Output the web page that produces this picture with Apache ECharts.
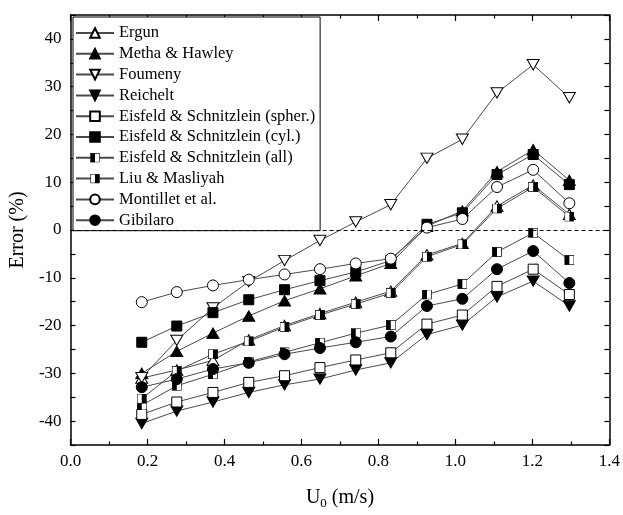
<!DOCTYPE html>
<html>
<head>
<meta charset="utf-8">
<script src="https://cdn.jsdelivr.net/npm/echarts@6/dist/echarts.min.js"></script>
<style>
html,body{margin:0;padding:0;background:#fff;}
#c{width:623px;height:515px;}
</style>
</head>
<body>
<div id="c"></div>
<script>
// ---- data ----
const xValues   = [0.185, 0.276, 0.370, 0.463, 0.556, 0.648, 0.741, 0.832, 0.926, 1.018, 1.108, 1.202, 1.296];
const ergun     = [-31.0, -29.3, -27.3, -23.0, -20.0, -17.5, -15.1, -12.8, -5.2, -2.8, 5.0, 9.4, 3.3];
const metha     = [-30.0, -25.4, -21.6, -18.0, -14.8, -12.3, -9.6, -7.0, 0.8, 4.0, 12.2, 16.8, 10.4];
const foumeny   = [-30.9, -23.1, -16.3, -10.8, -6.4, -2.2, 1.7, 5.3, 15.0, 19.0, 28.7, 34.6, 27.7];
const reichelt  = [-40.5, -37.9, -36.0, -34.0, -32.4, -31.2, -29.3, -27.8, -21.9, -19.9, -14.0, -10.7, -15.9];
const esSpher   = [-38.6, -36.0, -34.0, -31.9, -30.5, -28.8, -27.2, -25.7, -19.7, -17.8, -11.8, -8.2, -13.5];
const esCyl     = [-23.5, -20.1, -17.3, -14.6, -12.5, -10.6, -8.8, -6.4, 1.2, 3.6, 11.6, 15.8, 9.5];
const esAll     = [-36.7, -32.6, -30.2, -27.6, -25.6, -23.6, -21.6, -19.9, -13.5, -11.3, -4.6, -0.6, -6.3];
const liu       = [-35.3, -29.5, -26.0, -23.3, -20.3, -17.8, -15.5, -13.2, -5.6, -3.0, 4.5, 9.0, 2.8];
const montillet = [-15.1, -13.0, -11.6, -10.4, -9.3, -8.2, -7.0, -6.0, 0.5, 2.3, 9.0, 12.6, 5.6];
const gibilaro  = [-32.9, -31.2, -29.1, -27.8, -26.0, -24.7, -23.5, -22.3, -15.9, -14.4, -8.2, -4.4, -11.1];

const seriesNames = ['Ergun', 'Metha & Hawley', 'Foumeny', 'Reichelt',
  'Eisfeld & Schnitzlein (spher.)', 'Eisfeld & Schnitzlein (cyl.)',
  'Eisfeld & Schnitzlein (all)', 'Liu & Masliyah', 'Montillet et al.', 'Gibilaro'];
const yTickLabels = [-40, -30, -20, -10, 0, 10, 20, 30, 40];
const xTickLabels = [0.0, 0.2, 0.4, 0.6, 0.8, 1.0, 1.2, 1.4];

// ---- styling helpers ----
const FONT = '"Liberation Serif", "Times New Roman", serif';
const LINE = '#4a4a4a';
const DOWN_TRI = 'path://M0,0 L20,0 L10,17.32 Z';
const UP_TRI = 'path://M10,0 L20,17.32 L0,17.32 Z';

function halfSquare(leftBlack) {
  const svg = '<svg xmlns="http://www.w3.org/2000/svg" width="40" height="40" viewBox="0 0 40 40">' +
    '<rect x="1.5" y="1.5" width="37" height="37" fill="white" stroke="black" stroke-width="3"/>' +
    '<rect x="' + (leftBlack ? 1.5 : 20) + '" y="1.5" width="18.5" height="37" fill="black"/></svg>';
  return 'image://data:image/svg+xml;charset=utf-8,' + encodeURIComponent(svg);
}

function pairs(ys) { return xValues.map((x, i) => [x, ys[i]]); }

function mk(name, ys, symbol, size, fill) {
  return {
    name: name,
    type: 'line',
    data: pairs(ys),
    symbol: symbol,
    symbolSize: size,
    showSymbol: true,
    animation: false,
    lineStyle: { color: LINE, width: 1 },
    itemStyle: { color: fill, borderColor: '#000', borderWidth: 1 },
    emphasis: { disabled: true }
  };
}

const series = [
  mk(seriesNames[0], ergun, UP_TRI, [12, 10.4], '#fff'),
  mk(seriesNames[1], metha, UP_TRI, [12, 10.4], '#000'),
  mk(seriesNames[2], foumeny, DOWN_TRI, [12, 10.4], '#fff'),
  mk(seriesNames[3], reichelt, DOWN_TRI, [12, 10.4], '#000'),
  mk(seriesNames[4], esSpher, 'rect', 10, '#fff'),
  mk(seriesNames[5], esCyl, 'rect', 10, '#000'),
  mk(seriesNames[6], esAll, halfSquare(true), 10, '#000'),
  mk(seriesNames[7], liu, halfSquare(false), 10, '#000'),
  mk(seriesNames[8], montillet, 'circle', 11, '#fff'),
  mk(seriesNames[9], gibilaro, 'circle', 11, '#000')
];
series[0].markLine = {
  silent: true,
  symbol: ['none', 'none'],
  label: { show: false },
  lineStyle: { color: '#000', width: 1, type: [4, 3] },
  data: [{ yAxis: 0 }],
  animation: false
};

const axisLineStyle = { show: true, onZero: false, lineStyle: { color: '#000', width: 1.5 } };
const tickStyle = { color: '#000', width: 1.2 };

const option = {
  backgroundColor: '#fff',
  animation: false,
  grid: { left: 68.5, right: 13.5, top: 15, bottom: 64 },
  legend: {
    data: seriesNames,
    orient: 'vertical',
    left: 73,
    top: 17,
    itemWidth: 38,
    itemHeight: 12,
    itemGap: 3.8,
    padding: [7.5, 5, 2, 2],
    borderColor: '#000',
    borderWidth: 1,
    backgroundColor: '#fff',
    textStyle: { fontFamily: FONT, fontSize: 16.5, color: '#000', lineHeight: 16 }
  },
  xAxis: [{
    type: 'value', min: 0, max: 1.4, interval: 0.2,
    position: 'bottom',
    axisLine: axisLineStyle,
    splitLine: { show: false },
    axisTick: { show: true, inside: true, length: 6, lineStyle: tickStyle },
    minorTick: { show: true, splitNumber: 2, length: 3.5, lineStyle: tickStyle },
    axisLabel: {
      color: '#000', fontFamily: FONT, fontSize: 17, margin: 8,
      customValues: xTickLabels,
      formatter: v => Number(v).toFixed(1)
    },
    name: '{a|U}{b|0}{a| (m/s)}',
    nameLocation: 'middle',
    nameGap: 41,
    nameTextStyle: {
      rich: {
        a: { fontFamily: FONT, fontSize: 20, color: '#000' },
        b: { fontFamily: FONT, fontSize: 13, color: '#000', padding: [11, 0, 0, 0] }
      }
    }
  }, {
    type: 'value', min: 0, max: 1.4, interval: 0.2,
    position: 'top',
    axisLine: axisLineStyle,
    splitLine: { show: false },
    axisTick: { show: true, inside: true, length: 6, lineStyle: tickStyle },
    minorTick: { show: true, splitNumber: 2, length: 3.5, lineStyle: tickStyle },
    axisLabel: { show: false }
  }],
  yAxis: [{
    type: 'value', min: -45, max: 45, interval: 5,
    position: 'left',
    axisLine: axisLineStyle,
    splitLine: { show: false },
    axisTick: { show: true, inside: true, length: 5, lineStyle: tickStyle },
    axisLabel: {
      color: '#000', fontFamily: FONT, fontSize: 17, margin: 9,
      customValues: yTickLabels
    },
    name: 'Error (%)',
    nameLocation: 'middle',
    nameGap: 42,
    nameTextStyle: { fontFamily: FONT, fontSize: 20, color: '#000' }
  }, {
    type: 'value', min: -45, max: 45, interval: 5,
    position: 'right',
    axisLine: axisLineStyle,
    splitLine: { show: false },
    axisTick: { show: true, inside: true, length: 5, lineStyle: tickStyle },
    axisLabel: { show: false }
  }],
  series: series
};

const chart = echarts.init(document.getElementById('c'), null, { renderer: 'canvas' });
chart.setOption(option);
</script>
</body>
</html>
